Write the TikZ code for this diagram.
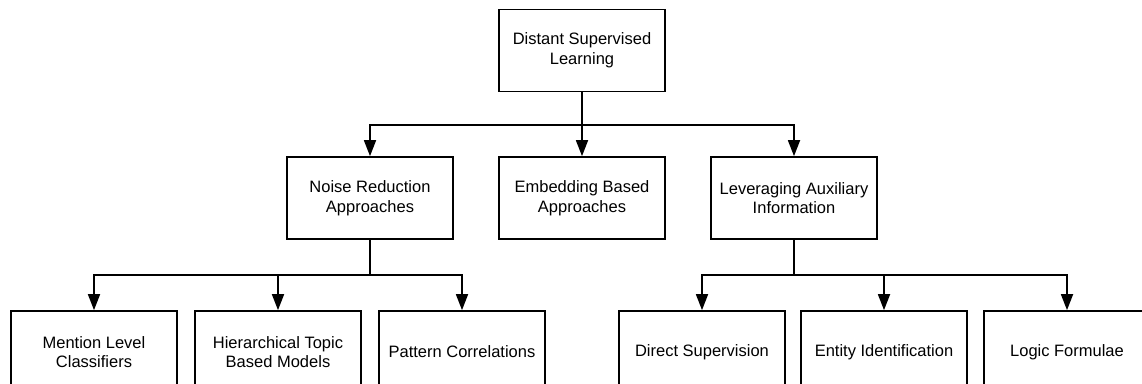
\documentclass[tikz,border=0pt]{standalone}
\usepackage{fontspec}
\setmainfont{Liberation Sans}
\usetikzlibrary{arrows.meta}
\begin{document}
\begin{tikzpicture}[x=1pt,y=-1pt,
  box/.style={draw=black,line width=1.7pt,minimum width=166pt,minimum height=82pt,inner sep=0pt,align=center,font=\fontsize{16.5}{19.8}\selectfont},
  conn/.style={draw=black,line width=1.7pt},
  arr/.style={conn,-{Triangle[length=16pt,width=12pt]}}]
\useasboundingbox (0,0) rectangle (1142,383);
\node[box] (top) at (582,50.5) {Distant Supervised\\Learning};
\node[box] (noise) at (370,198) {Noise Reduction\\Approaches};
\node[box] (emb) at (582,198) {Embedding Based\\Approaches};
\node[box] (lev) at (794,198) {Leveraging Auxiliary\\Information};
\node[box] (men) at (94,352) {Mention Level\\Classifiers};
\node[box] (hier) at (278,352) {Hierarchical Topic\\Based Models};
\node[box] (pat) at (462,352) {Pattern Correlations};
\node[box] (dir) at (702,352) {Direct Supervision};
\node[box] (ent) at (884,352) {Entity Identification};
\node[box] (log) at (1067,352) {Logic Formulae};
\coordinate (j1) at (582,125);
\coordinate (j2) at (370,275);
\coordinate (j3) at (794,275);
\draw[arr] (top.south) -- (j1) -| (noise.north);
\draw[arr] (j1) -- (emb.north);
\draw[arr] (j1) -| (lev.north);
\draw[arr] (noise.south) -- (j2) -| (men.north);
\draw[arr] (j2) -| (hier.north);
\draw[arr] (j2) -| (pat.north);
\draw[arr] (lev.south) -- (j3) -| (dir.north);
\draw[arr] (j3) -| (ent.north);
\draw[arr] (j3) -| (log.north);
\end{tikzpicture}
\end{document}
